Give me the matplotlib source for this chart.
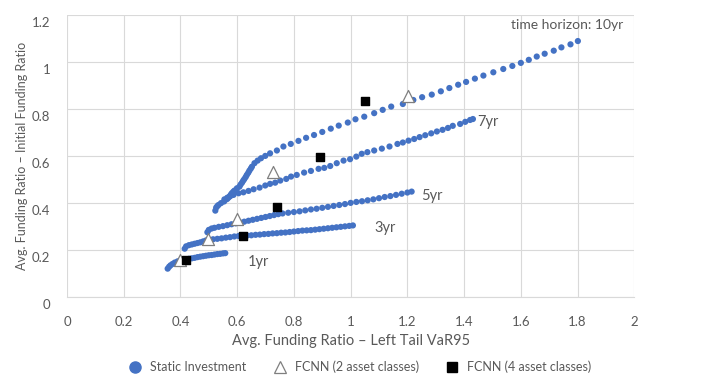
import matplotlib
matplotlib.use("Agg")
import matplotlib.pyplot as plt
import matplotlib.transforms as mtransforms
from matplotlib.lines import Line2D

plt.rcParams['font.family'] = ['Lato', 'DejaVu Sans']

# Static investment frontiers, one per horizon
x_1yr = [0.355, 0.36, 0.365, 0.372, 0.38, 0.39, 0.40, 0.41, 0.42, 0.43, 0.44, 0.45,
         0.46, 0.47, 0.48, 0.49, 0.50, 0.51, 0.52, 0.53, 0.54, 0.55, 0.558]
y_1yr = [0.12, 0.128, 0.134, 0.14, 0.146, 0.151, 0.155, 0.158, 0.160, 0.162, 0.164, 0.166,
         0.169, 0.171, 0.173, 0.175, 0.177, 0.178, 0.180, 0.182, 0.183, 0.185, 0.186]

x_3yr = [0.415, 0.42, 0.43, 0.44, 0.45, 0.46, 0.47, 0.48, 0.49, 0.50, 0.515, 0.53, 0.545,
         0.56, 0.575, 0.59, 0.605, 0.62, 0.635, 0.65, 0.665, 0.68, 0.695, 0.71, 0.725,
         0.74, 0.755, 0.77, 0.785, 0.80, 0.815, 0.83, 0.845, 0.86, 0.875, 0.89, 0.905,
         0.92, 0.935, 0.95, 0.965, 0.98, 0.995, 1.008]
y_3yr = [0.205, 0.215, 0.220, 0.223, 0.226, 0.229, 0.232, 0.236, 0.240, 0.243, 0.245, 0.247,
         0.249, 0.252, 0.254, 0.257, 0.259, 0.260, 0.261, 0.262, 0.264, 0.265, 0.267, 0.268,
         0.270, 0.271, 0.273, 0.274, 0.276, 0.278, 0.280, 0.282, 0.283, 0.284, 0.286, 0.288,
         0.290, 0.292, 0.294, 0.296, 0.298, 0.300, 0.302, 0.304]

x_5yr = [0.495, 0.50, 0.51, 0.52, 0.535, 0.55, 0.565, 0.58, 0.595, 0.61, 0.625, 0.64, 0.655,
         0.67, 0.685, 0.70, 0.715, 0.73, 0.745, 0.76, 0.78, 0.80, 0.82, 0.84, 0.86, 0.88,
         0.90, 0.92, 0.94, 0.96, 0.98, 1.00, 1.02, 1.04, 1.06, 1.08, 1.10, 1.12, 1.14, 1.16,
         1.18, 1.20, 1.215]
y_5yr = [0.275, 0.285, 0.291, 0.294, 0.298, 0.301, 0.305, 0.309, 0.313, 0.317, 0.320, 0.324,
         0.328, 0.332, 0.336, 0.340, 0.344, 0.348, 0.352, 0.355, 0.358, 0.361, 0.364, 0.368,
         0.372, 0.375, 0.379, 0.383, 0.387, 0.391, 0.395, 0.400, 0.404, 0.407, 0.411, 0.415,
         0.420, 0.425, 0.429, 0.434, 0.439, 0.444, 0.448]

x_7yr = [0.555, 0.565, 0.575, 0.587, 0.605, 0.622, 0.64, 0.658, 0.679, 0.699, 0.716, 0.734,
         0.752, 0.773, 0.79, 0.81, 0.836, 0.86, 0.887, 0.907, 0.928, 0.951, 0.975, 0.998,
         1.02, 1.039, 1.059, 1.083, 1.110, 1.137, 1.165, 1.184, 1.204, 1.224, 1.243, 1.263,
         1.284, 1.304, 1.324, 1.343, 1.360, 1.386, 1.404, 1.421, 1.431]
y_7yr = [0.415, 0.422, 0.428, 0.434, 0.441, 0.445, 0.451, 0.458, 0.465, 0.474, 0.481, 0.486,
         0.495, 0.502, 0.512, 0.519, 0.529, 0.536, 0.545, 0.549, 0.557, 0.569, 0.580, 0.586,
         0.597, 0.609, 0.616, 0.623, 0.631, 0.640, 0.651, 0.657, 0.665, 0.672, 0.680, 0.688,
         0.696, 0.704, 0.711, 0.719, 0.728, 0.736, 0.745, 0.753, 0.757]

x_10yr = [0.523, 0.526, 0.530, 0.534, 0.543, 0.554, 0.564, 0.568, 0.573, 0.577, 0.581, 0.586,
          0.590, 0.599, 0.608, 0.612, 0.617, 0.621, 0.625, 0.630, 0.634, 0.639, 0.643, 0.648,
          0.652, 0.661, 0.672, 0.684, 0.699, 0.716, 0.740, 0.763, 0.789, 0.816, 0.843, 0.871,
          0.900, 0.930, 0.958, 0.990, 1.017, 1.048, 1.083, 1.113, 1.143, 1.184, 1.221, 1.252,
          1.286, 1.318, 1.348, 1.379, 1.407, 1.438, 1.468, 1.503, 1.538, 1.570, 1.600, 1.628,
          1.656, 1.684, 1.716, 1.743, 1.775, 1.801]
y_10yr = [0.367, 0.380, 0.386, 0.391, 0.399, 0.406, 0.416, 0.421, 0.427, 0.434, 0.441, 0.447,
          0.452, 0.462, 0.469, 0.478, 0.486, 0.494, 0.501, 0.510, 0.519, 0.528, 0.537, 0.546,
          0.554, 0.569, 0.580, 0.590, 0.600, 0.611, 0.623, 0.640, 0.651, 0.664, 0.677, 0.689,
          0.702, 0.716, 0.729, 0.742, 0.756, 0.767, 0.782, 0.796, 0.810, 0.821, 0.838, 0.850,
          0.861, 0.875, 0.889, 0.903, 0.915, 0.929, 0.942, 0.956, 0.970, 0.983, 0.996, 1.009,
          1.023, 1.035, 1.048, 1.062, 1.075, 1.089]

# FCNN results, one point per horizon
fcnn2_x = [0.40, 0.497, 0.599, 0.726, 1.201]
fcnn2_y = [0.157, 0.247, 0.330, 0.533, 0.857]
fcnn4_x = [0.420, 0.622, 0.742, 0.892, 1.051]
fcnn4_y = [0.157, 0.257, 0.384, 0.597, 0.834]

horizon_labels = ["1yr", "3yr", "5yr", "7yr"]
label_x = [0.675, 1.121, 1.286, 1.483]
label_y = [0.150, 0.292, 0.430, 0.746]

blue = "#4472C4"
grey = "#595959"

fig = plt.figure(figsize=(7.2, 3.84), dpi=100)
ax = fig.add_axes([0.093, 0.227, 0.788, 0.734])

for xs, ys in [(x_1yr, y_1yr), (x_3yr, y_3yr), (x_5yr, y_5yr), (x_7yr, y_7yr), (x_10yr, y_10yr)]:
    ax.scatter(xs, ys, s=20, color=blue, edgecolors="none", zorder=3)

ax.scatter(fcnn2_x, fcnn2_y, s=75, marker="^", facecolor="white", edgecolors="#7f7f7f",
           linewidths=0.9, zorder=4)
ax.scatter(fcnn4_x, fcnn4_y, s=38, marker="s", color="black", zorder=4)

for t, lx, ly in zip(horizon_labels, label_x, label_y):
    ax.text(lx, ly, t, fontsize=10.5, color=grey, ha="center", va="center")
ax.text(1.96, 1.157, "time horizon: 10yr", fontsize=10, color=grey, ha="right", va="center")

ax.set_xlim(0, 2)
ax.set_ylim(0, 1.2)
ax.set_xticks([i * 0.2 for i in range(11)])
ax.set_yticks([i * 0.2 for i in range(7)])
ax.set_xticklabels([f"{i * 0.2:g}" for i in range(11)])
ax.set_yticklabels([f"{i * 0.2:g}" for i in range(7)])
ax.tick_params(length=0, colors=grey, labelsize=9.5)
ax.tick_params(axis="x", pad=14)
ax.tick_params(axis="y", pad=12)
# y tick labels sit a little below their gridlines in the original
shift = mtransforms.ScaledTranslation(0, -0.07, fig.dpi_scale_trans)
for lab in ax.get_yticklabels():
    lab.set_transform(lab.get_transform() + shift)
ax.grid(True, color="#D9D9D9", linewidth=0.8)
ax.set_axisbelow(True)
for side in ["top", "right", "left"]:
    ax.spines[side].set_visible(False)
ax.spines["bottom"].set_color("#D9D9D9")

ax.set_xlabel("Avg. Funding Ratio \u2013 Left Tail VaR95", fontsize=10.5, color=grey, labelpad=4)
ax.set_ylabel("Avg. Funding Ratio \u2013 Initial Funding Ratio", fontsize=9, color=grey, labelpad=3)

handles = [
    Line2D([], [], marker="o", linestyle="none", markersize=8, color=blue, markeredgecolor=blue),
    Line2D([], [], marker="^", linestyle="none", markersize=9, markerfacecolor="white",
           markeredgecolor="#7f7f7f", markeredgewidth=0.9),
    Line2D([], [], marker="s", linestyle="none", markersize=7, color="black"),
]
fig.legend(handles, ["Static Investment", "FCNN (2 asset classes)", "FCNN (4 asset classes)"],
           loc="center", bbox_to_anchor=(0.5, 0.044), ncol=3, frameon=False, fontsize=9,
           labelcolor=grey, handletextpad=0.7, columnspacing=2.2, handlelength=1.0)

plt.savefig("out.png", dpi=100)
